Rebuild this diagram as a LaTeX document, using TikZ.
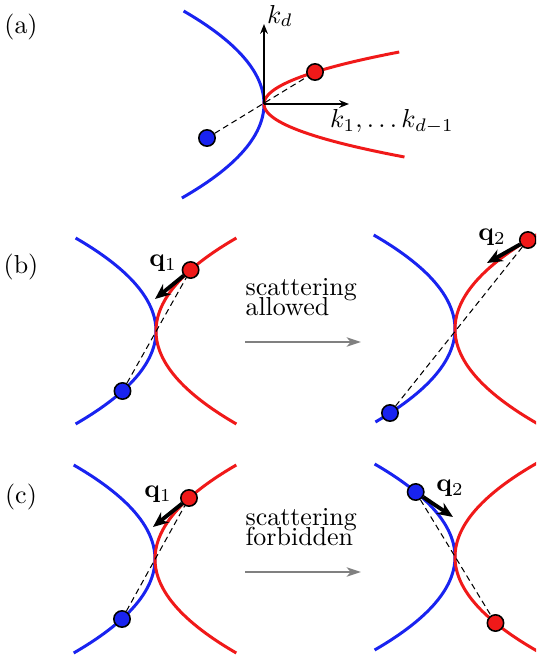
\documentclass[tikz,border=0pt]{standalone}
\usetikzlibrary{arrows.meta}
\definecolor{cblue}{RGB}{25,35,240}
\definecolor{cred}{RGB}{240,25,25}
\begin{document}
\begin{tikzpicture}[x=0.385pt,y=-0.385pt,
  bcurve/.style={cblue, line width=1.15pt},
  rcurve/.style={cred, line width=1.15pt},
  bdot/.style={circle, draw=black, fill=cblue, line width=0.6pt, minimum size=6.3pt, inner sep=0pt},
  rdot/.style={circle, draw=black, fill=cred, line width=0.6pt, minimum size=6.3pt, inner sep=0pt},
  link/.style={line width=0.4pt, dash pattern=on 2.3pt off 1.5pt},
  qarrow/.style={line width=1.5pt, -{Stealth[length=6pt,width=5pt]}},
  axisarrow/.style={line width=0.5pt, -{Stealth[length=3.8pt,width=3pt]}},
  garrow/.style={draw=gray, line width=0.8pt, -{Stealth[length=5.5pt,width=3.6pt,inset=1.5pt]}},
  lbl/.style={inner sep=0pt}
]
\clip (0,0) rectangle (536,663);

% ---------- panel (a)
\draw[bcurve] plot[domain=-93:94,samples=60,variable=\t] ({264-0.0093*\t*\t},{104+\t});
\draw[rcurve] plot[domain=-52:53,samples=60,variable=\t] ({264+0.05*\t*\t},{104+\t});
\coordinate (oa) at (264,104);
\coordinate (ta) at (264,24);
\coordinate (xa) at (349,104);
\draw[axisarrow] (oa) -- (ta);
\draw[axisarrow] (oa) -- (xa);
\node[bdot] (ba) at (207,138) {};
\node[rdot] (ra) at (315,72) {};
\draw[link] (ba) -- (ra);
\node[lbl] (kd) at (280,16) {$k_d$};
\node[lbl] (kx) at (392,122) {$k_1,\ldots k_{d-1}$};
\node[lbl] (la) at (21,27) {(a)};

% ---------- panel (b) left
\draw[bcurve] plot[domain=-93:93,samples=60,variable=\t] ({156-0.0093*\t*\t},{331+\t});
\draw[rcurve] plot[domain=-93:93,samples=60,variable=\t] ({156+0.0093*\t*\t},{331+\t});
\node[bdot] (bb1) at (122.5,391) {};
\node[rdot] (rb1) at (190.6,270) {};
\draw[link] (bb1) -- (rb1);
\coordinate (qb1) at (155,299);
\draw[qarrow] (rb1) -- (qb1);
\node[lbl] (lqb1) at (163,263) {$\mathbf{q}_1$};
\node[lbl] (lb) at (21,267) {(b)};

% ---------- panel (b) middle
\coordinate (gb0) at (245,342);
\coordinate (gb1) at (361,342);
\draw[garrow] (gb0) -- (gb1);
\node[lbl, anchor=base west] (sb) at (245,295) {scattering};
\node[lbl, anchor=base west] (ab) at (245,315) {allowed};

% ---------- panel (b) right
\draw[bcurve] plot[domain=-94:93,samples=60,variable=\t] ({455-0.0092*\t*\t},{329+\t});
\draw[rcurve] plot[domain=-97:97,samples=60,variable=\t] ({455+0.0092*\t*\t},{329+\t});
\node[bdot] (bb2) at (390,413) {};
\node[rdot] (rb2) at (527.9,240) {};
\draw[link] (bb2) -- (rb2);
\coordinate (qb2) at (487,263);
\draw[qarrow] (rb2) -- (qb2);
\node[lbl] (lqb2) at (492,237) {$\mathbf{q}_2$};

% ---------- panel (c) left
\draw[bcurve] plot[domain=-94:94,samples=60,variable=\t] ({155-0.0092*\t*\t},{559+\t});
\draw[rcurve] plot[domain=-94:94,samples=60,variable=\t] ({155+0.0092*\t*\t},{559+\t});
\node[bdot] (bc1) at (122,619) {};
\node[rdot] (rc1) at (189,498) {};
\draw[link] (bc1) -- (rc1);
\coordinate (qc1) at (153,527);
\draw[qarrow] (rc1) -- (qc1);
\node[lbl] (lqc1) at (158,494) {$\mathbf{q}_1$};
\node[lbl] (lc) at (21,497) {(c)};

% ---------- panel (c) middle
\coordinate (gc0) at (245,572);
\coordinate (gc1) at (361,572);
\draw[garrow] (gc0) -- (gc1);
\node[lbl, anchor=base west] (sc) at (245,525) {scattering};
\node[lbl, anchor=base west] (fc) at (245,545) {forbidden};

% ---------- panel (c) right
\draw[bcurve] plot[domain=-93:93,samples=60,variable=\t] ({455-0.0093*\t*\t},{557+\t});
\draw[rcurve] plot[domain=-97:97,samples=60,variable=\t] ({455+0.0093*\t*\t},{557+\t});
\node[bdot] (bc2) at (415.7,492) {};
\node[rdot] (rc2) at (495.5,623) {};
\draw[link] (bc2) -- (rc2);
\coordinate (qc2) at (453,517);
\draw[qarrow] (bc2) -- (qc2);
\node[lbl] (lqc2) at (450,488) {$\mathbf{q}_2$};
\end{tikzpicture}
\end{document}
